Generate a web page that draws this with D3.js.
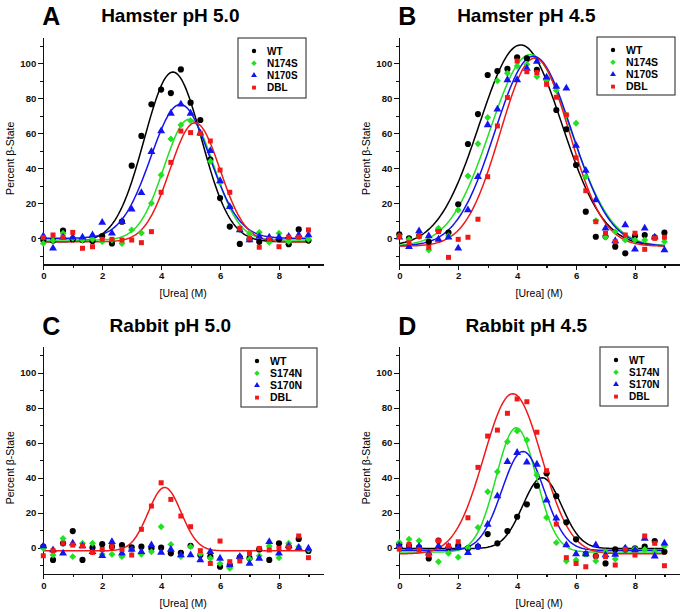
<!DOCTYPE html>
<html>
<head>
<meta charset="utf-8">
<title>Urea denaturation, percent beta-state</title>
<script src="https://d3js.org/d3.v7.min.js"></script>
<style>
    body { margin: 0; background: #fff; }
    svg { display: block; font-family: "Liberation Sans", Arial, sans-serif; }
    .axis path, .axis line { stroke: #111; stroke-width: 1.2; shape-rendering: crispEdges; }
    .axis text { font-size: 9.6px; font-weight: bold; fill: #111; }
    .legend rect { fill: #fff; stroke: #444; stroke-width: 1.2; }
    .legend text { font-weight: bold; fill: #000; }
</style>
</head>
<body>
<svg id="fig" width="683" height="612"></svg>
<script>
// urea concentration of every measured point (M)
var urea = [0, 0.33, 0.67, 1, 1.33, 1.67, 2, 2.33, 2.67, 3, 3.33, 3.67, 4, 4.33,
            4.67, 5, 5.33, 5.67, 6, 6.33, 6.67, 7, 7.33, 7.67, 8, 8.33, 8.67, 9];

var xTicks = [0, 2, 4, 6, 8];
var xMinor = [1, 3, 5, 7, 9];
var yTicks = [0, 20, 40, 60, 80, 100];
var yMinor = [-10, 10, 30, 50, 70, 90, 110];

var hamsterNames = ["WT", "N174S", "N170S", "DBL"];
var rabbitNames = ["WT", "S174N", "S170N", "DBL"];

// A - Hamster pH 5.0
var hamster50WT    = [-1, -1.3, 4.4, -0.5, -1, -1.5, 1.3, -2.9, 9.5, 41.5, 58.5, 76.6, 85, 83, 96.5, 77.5, 67.6, 45, 23, 6.7, -3.2, -0.5, -2, -1, -0.5, -3.4, 5.1, -1.3];
var hamster50N174S = [-2.9, -1.3, 2.9, 0, -1, -0.5, -1.9, -1, -3, 4.8, 3, 20, 36.2, 56.8, 64.8, 67.2, 60, 44, 31.8, 18, 4.8, 2.9, 3.4, -2.3, 2.9, -1.9, 0.5, -0.5];
var hamster50N170S = [1.3, -5.7, 0.6, 0.6, 0.6, 1.9, 9, 2.9, 9.5, 16.6, 26, 49.5, 61.3, 71.4, 76.6, 71.4, 60, 50, 32.8, 18, 4.8, -1, 1, 0.6, 0.6, 1, 1.9, 1.9];
var hamster50DBL   = [0.5, 1.9, 0.6, 3.4, -5.7, -4.8, -0.6, -0.6, -1, -1, -2.5, 3.8, 26.3, 43.4, 61.3, 60.4, 60, 55.6, 39, 26.3, 5.7, 0, -5.1, -0.5, -4.8, 0.6, 0.6, 4.8];
// Gauss fits: [centre, amplitude, width, baseline]
var hamster50Fit = [[4.4, 97, 0.97, -2], [4.95, 69, 0.85, -1], [4.65, 76.5, 1.0, 0], [5.15, 68, 0.85, -2]];

// B - Hamster pH 4.5
var hamster45WT    = [2.3, 0, 1.3, -2, 4.4, 3.2, 19.4, 53.9, 71, 93.3, 95.6, 96.8, 103.4, 102.9, 96.2, 90.9, 73.3, 62.3, 41.9, 15.2, 0.9, 1, -4.8, -8.6, 1.3, 1.9, 0.6, 3.2];
var hamster45N174S = [1.3, -0.6, 1, -6.7, 5.7, 1.5, 16.2, 35.6, 54, 69, 90, 94.3, 98.5, 99.4, 92.4, 90.5, 84.4, 70.5, 65.7, 35.2, 10, 0.6, 3.8, -1, -1, -1, 0.6, -1.9];
var hamster45N170S = [0.6, -4.8, 4.2, 1.3, -0.6, 0.6, -5.7, 16.2, 35.2, 64.8, 73.7, 90.5, 90.5, 97.1, 101, 92, 86.7, 85.7, 53, 38.7, 21.9, 5.7, -1.5, 7.6, -6.3, 5.7, 0.6, -6.7];
var hamster45DBL   = [1, -2.5, 1, -5.1, 3.8, -10.9, -0.6, 0.6, 10.9, 35.2, 64.2, 80.4, 101.3, 95.2, 94.7, 88, 80.6, 70.5, 46, 27.2, 9.5, 2.9, -1.9, 1.9, 2.9, -6.3, 0, 0.6];
var hamster45Fit = [[4.12, 115, 1.4, -4.5], [4.45, 109.5, 1.37, -4.5], [4.55, 108.5, 1.3, -4.5], [4.6, 107.5, 1.17, -4.5]];

// C - Rabbit pH 5.0
var rabbit50WT    = [0.6, -7, 2.5, 9.5, -7, 0, 2, 0.6, 1.5, 0.2, 0.6, -0.4, 0, -3.2, -2.9, 1.1, -4.2, -5.1, -10.9, -9.9, -5.5, -6, -1, -7, 2.5, 0.6, 5, -1.9];
var rabbit50S174N = [-0.4, -4.2, 5.3, -5.1, 2.5, 2.5, -3.8, -3.8, -5.1, -1, -3.8, -2.3, 12, 1.9, -5.1, 0.6, -3.6, -6, -9, -11.8, -6.1, -6.5, -4.6, 1, -5.7, 2.5, 0.6, -1];
var rabbit50S170N = [1, -1.3, -3.2, 2.5, 1, -2.3, -4.6, 3.4, -3.2, -1, -2.3, 1.5, -2.7, -1, -4.2, -4.2, -7, -2.3, -6.1, -9.9, -5.1, -9, -6.1, 3.4, -3.2, 1, 0, -0.4];
var rabbit50DBL   = [-4.6, -1.7, 2.5, 1.5, 1, -2.7, -1, 0.6, -1, -4.2, 10.5, 23.8, 37.1, 27.6, 18.1, 12, -1.7, -9, 3.8, -8, -7.6, -3.2, -0.4, -1.3, -0.4, 0.2, 6.7, -5.7];
var rabbit50Fit = [null, null, null, [4.12, 36.2, 0.56, -1.8]];

// D - Rabbit pH 4.5
var rabbit45WT    = [1.9, 1, 0.2, -6.1, 4, 0, 1, -0.4, 0.6, 7.8, 2.5, 9.5, 17.7, 24.8, 35.4, 42.5, 29.5, 14.5, 4.8, -3.6, -4.8, -9, -1, -1, -0.4, 0.6, 3.8, -2.3];
var rabbit45S174N = [3, 4.8, 4, -3.2, -8, -3.2, -5.5, 0, 11.6, 32, 43.4, 60.6, 66.7, 61.5, 41.5, 17.3, 2.9, -7.6, -7, -3.8, -7.6, -2.3, -6.5, 0, -0.4, -1, -2.3, 1];
var rabbit45S170N = [1.1, 0.2, 0.6, -3.2, 1, 0.6, 0.2, -2.9, 0.6, 13.3, 29.5, 49.1, 54.3, 48.8, 47.6, 27.2, 16.8, 1.5, -3.6, -3.6, 1.5, -4.2, -3.8, -0.4, -1.3, 5.3, -4.8, 2.5];
var rabbit45DBL   = [-0.8, 1.9, -1.3, -4.2, 4, 1, 3.4, 17.1, 45.9, 63.8, 67.2, 76.8, 85, 83.4, 66, 44, 13.5, -5.7, -9, -10.9, -4.8, -5.1, -9.9, -1, -4.2, 6.7, 2.5, -10.3];
var rabbit45Fit = [[4.85, 40.5, 0.66, -0.5], [3.97, 71, 0.68, -2.5], [4.2, 56.5, 0.72, -1.5], [3.85, 91.5, 0.98, -3.5]];

var farben = ["#000000", "#22e022", "#1414f0", "#f01818"];
var formen = ["circle", "diamond", "triangle", "square"];

// Layout der vier Panels (Ursprung x=0 / y=0 in Pixeln)
var panels = [
    { letter: "A", title: "Hamster pH 5.0", ox: 43.3, oy: 238.3, names: hamsterNames,
      series: [hamster50WT, hamster50N174S, hamster50N170S, hamster50DBL], fits: hamster50Fit,
      legend: { x: 238, y: 38, w: 68, h: 60, fs: 10 } },
    { letter: "B", title: "Hamster pH 4.5", ox: 399.3, oy: 238.3, names: hamsterNames,
      series: [hamster45WT, hamster45N174S, hamster45N170S, hamster45DBL], fits: hamster45Fit,
      legend: { x: 597, y: 37, w: 78, h: 58, fs: 10.5 } },
    { letter: "C", title: "Rabbit pH 5.0", ox: 43.3, oy: 547.7, names: rabbitNames,
      series: [rabbit50WT, rabbit50S174N, rabbit50S170N, rabbit50DBL], fits: rabbit50Fit,
      legend: { x: 241, y: 348, w: 76, h: 59, fs: 10.5 } },
    { letter: "D", title: "Rabbit pH 4.5", ox: 399.3, oy: 547.7, names: rabbitNames,
      series: [rabbit45WT, rabbit45S174N, rabbit45S170N, rabbit45DBL], fits: rabbit45Fit,
      legend: { x: 600, y: 347, w: 68, h: 59, fs: 10 } }
];

var pxPerM = 29.46, pxPerPct = 1.75;
var svg = d3.select("#fig");

function symbolPath(form, size) {
    var t = { circle: d3.symbolCircle, diamond: d3.symbolSquare, triangle: d3.symbolTriangle, square: d3.symbolSquare }[form];
    return d3.symbol().type(t).size(size)();
}

function gauss(p, x) {
    return p[3] + p[1] * Math.exp(-(x - p[0]) * (x - p[0]) / (2 * p[2] * p[2]));
}

panels.forEach(function (p) {
    var x = d3.scaleLinear().domain([0, 9.5]).range([p.ox, p.ox + 9.5 * pxPerM]);
    var y = d3.scaleLinear().domain([-15, 115]).range([p.oy + 15 * pxPerPct, p.oy - 115 * pxPerPct]);
    var g = svg.append("g");

    // Achsen
    g.append("g").attr("class", "axis")
        .attr("transform", "translate(0," + y(-15) + ")")
        .call(d3.axisBottom(x).tickValues(xTicks).tickSize(5).tickSizeOuter(0).tickPadding(3));
    g.append("g").attr("class", "axis")
        .attr("transform", "translate(0," + y(-15) + ")")
        .call(d3.axisBottom(x).tickValues(xMinor).tickSize(3).tickFormat(""))
        .select(".domain").remove();
    g.append("g").attr("class", "axis")
        .attr("transform", "translate(" + x(0) + ",0)")
        .call(d3.axisLeft(y).tickValues(yTicks).tickSize(5).tickSizeOuter(0).tickPadding(2));
    g.append("g").attr("class", "axis")
        .attr("transform", "translate(" + x(0) + ",0)")
        .call(d3.axisLeft(y).tickValues(yMinor).tickSize(3).tickFormat(""))
        .select(".domain").remove();

    // Beschriftungen
    g.append("text")
        .attr("transform", "translate(" + (p.ox - 33) + "," + (p.oy - 80) + ") rotate(-90)")
        .attr("text-anchor", "middle").attr("dy", "0.35em")
        .style("font-size", "10.5px")
        .text("Percent β-State");
    g.append("text")
        .attr("x", x(4.75)).attr("y", p.oy + 59)
        .attr("text-anchor", "middle")
        .style("font-size", "10.5px")
        .text("[Urea] (M)");
    g.append("text")
        .attr("x", p.ox + 127).attr("y", p.oy - 216)
        .attr("text-anchor", "middle")
        .style("font-size", "19px").style("font-weight", "bold")
        .text(p.title);
    g.append("text")
        .attr("x", p.ox - 1).attr("y", p.oy - 213)
        .style("font-size", "25px").style("font-weight", "bold")
        .text(p.letter);

    // Fitkurven
    var xs = d3.range(0, 9.0001, 0.05);
    p.fits.forEach(function (fit, i) {
        if (!fit) return;
        g.append("path")
            .datum(xs)
            .attr("fill", "none")
            .attr("stroke", farben[i])
            .attr("stroke-width", 1.5)
            .attr("d", d3.line()
                .x(function (d) { return x(d); })
                .y(function (d) { return y(gauss(fit, d)); }));
    });

    // Messpunkte
    var sizes = [30, 24, 27, 25];
    p.series.forEach(function (vals, i) {
        g.selectAll(".pt" + i)
            .data(vals)
            .enter().append("path")
            .attr("class", "pt" + i)
            .attr("d", symbolPath(formen[i], sizes[i]))
            .attr("fill", farben[i])
            .attr("transform", function (d, k) {
                return "translate(" + x(urea[k]) + "," + y(d) + ")" + (formen[i] === "diamond" ? " rotate(45)" : "");
            });
    });

    // Legende
    var L = p.legend;
    var lg = g.append("g").attr("class", "legend");
    lg.append("rect").attr("x", L.x).attr("y", L.y).attr("width", L.w).attr("height", L.h);
    p.names.forEach(function (name, i) {
        var ry = L.y + 13 + i * 12.2;
        lg.append("path")
            .attr("d", symbolPath(formen[i], 15))
            .attr("fill", farben[i])
            .attr("transform", "translate(" + (L.x + 16) + "," + ry + ")" + (formen[i] === "diamond" ? " rotate(45)" : ""));
        lg.append("text")
            .attr("x", L.x + 29).attr("y", ry).attr("dy", "0.36em")
            .style("font-size", L.fs + "px")
            .text(name);
    });
});
</script>
</body>
</html>
